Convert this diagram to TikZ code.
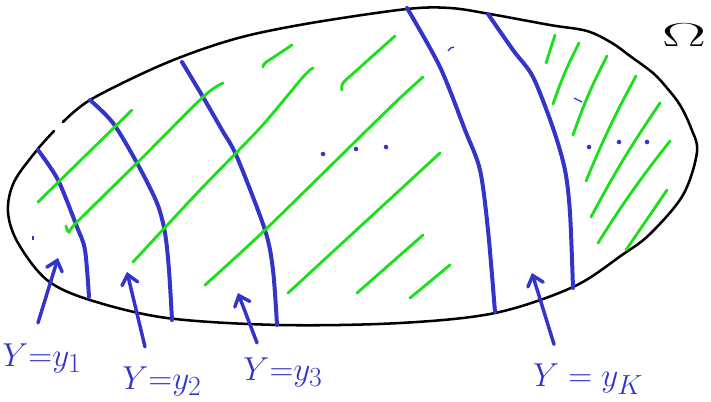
\documentclass[tikz,border=0pt]{standalone}
\usepackage{amsmath,amssymb}
\usetikzlibrary{arrows.meta}
\definecolor{penblue}{RGB}{52,52,200}
\definecolor{pengreen}{RGB}{25,225,25}

\begin{document}
\begin{tikzpicture}[x=0.75pt,y=-0.75pt,
    rim/.style={line width=1.9pt,line cap=round,line join=round},
    level/.style={penblue,line width=3pt,line cap=round},
    hatch/.style={pengreen,line width=2.1pt,line cap=round},
    pointer/.style={penblue,line width=2.6pt,line cap=round,
      -{Straight Barb[length=7pt,width=12pt,line cap=round]}},
    lbl/.style={penblue,font=\fontsize{28}{30}\selectfont,inner sep=1pt}]
    \useasboundingbox (0,0) rectangle (711,401);
    % the domain, open at the upper left
    \draw[rim] plot[smooth,tension=0.55] coordinates {(54,131) (37,150) (14,182) (8,212) (18,243) (47,280) (90,300)
      (167,318) (280,325) (400,323) (495,313) (573,287) (622,255) (650,234) (683,195) (697,152) (691,128) (680,105)
      (667,88) (653,73) (630,56) (612,43) (587,31) (550,25) (490,14) (450,8) (407,9) (317,22) (250,35) (200,50)
      (150,70) (90,100) (63,122)};
    % level curves
    \draw[level] plot[smooth] coordinates {(38,150) (58,180) (77,227) (85,250) (89,297)};
    \draw[level] plot[smooth] coordinates {(90,100) (113,123) (137,163) (157,203) (165,233) (169,270) (172,320)};
    \draw[level] plot[smooth] coordinates {(182,62) (203,97) (222,130) (237,157) (265,230) (273,270) (277,325)};
    \draw[level] plot[smooth] coordinates {(407,8) (440,67) (465,130) (480,170) (488,230) (495,312)};
    \draw[level] plot[smooth] coordinates {(488,14) (513,50) (533,77) (553,128) (565,170) (570,213) (573,288)};
    % hatching
    \draw[hatch] (38,202) -- (132,110);
    \draw[hatch] plot[smooth] coordinates {(66,226) (69,232) (77,222) (140,160) (203,97) (223,83)};
    \draw[hatch] plot[smooth] coordinates {(133,262) (200,190) (260,128) (303,77) (313,68)};
    \draw[hatch] plot[smooth] coordinates {(205,285) (265,230) (367,130) (400,98) (423,77)};
    \draw[hatch] (288,293) -- (440,153);
    \draw[hatch] (357,293) -- (423,235);
    \draw[hatch] (410,298) -- (450,265);
    \draw[hatch] plot[smooth] coordinates {(263,67) (265,63) (277,55) (292,45)};
    \draw[hatch] plot[smooth] coordinates {(342,90) (343,83) (357,70) (395,36)};
    \draw[hatch] (555,35) -- (546,63);
    \draw[hatch] (579,43) to[bend right=4] (553,104);
    \draw[hatch] (607,56) to[bend right=4] (573,135);
    \draw[hatch] (636,76) to[bend right=3] (586,181);
    \draw[hatch] (660,103) to[bend right=3] (591,217);
    \draw[hatch] (670,141) to[bend right=3] (598,243);
    \draw[hatch] (667,190) -- (626,250);
    % dots and stray pen marks
    \foreach \p in {(323,154),(356,149),(386,147),(589,147),(619,142),(647,142)}
      \fill[penblue] \p circle[radius=1.7pt];
    \draw[penblue,line width=1pt] (33,236) -- (33,240);
    \draw[penblue,line width=1pt] (448,51) to[bend left=30] (454,47);
    \draw[penblue,line width=1pt] (574,98) -- (582,102);
    \node[font=\fontsize{24}{24}\selectfont,xscale=2] (omega) at (684,35) {$\Omega$};
    % labels and arrows
    \node[lbl] (lab1) at (42,358) {$Y{=}y_1$};
    \node[lbl] (lab2) at (162,381) {$Y{=}y_2$};
    \node[lbl] (lab3) at (283,372) {$Y{=}y_3$};
    \node[lbl] (labK) at (588,379) {$Y = y_K$};
    \coordinate (h1) at (58,258);
    \coordinate (h2) at (127,272);
    \coordinate (h3) at (238,293);
    \coordinate (hK) at (532,273);
    \draw[pointer] ([shift={(-4,-19)}]lab1.north) -- (h1);
    \draw[pointer] ([shift={(-17,-18)}]lab2.north) -- (h2);
    \draw[pointer] ([shift={(-26,-13)}]lab3.north) -- (h3);
    \draw[pointer] ([shift={(-34,-18)}]labK.north) -- (hK);
\end{tikzpicture}
\end{document}
